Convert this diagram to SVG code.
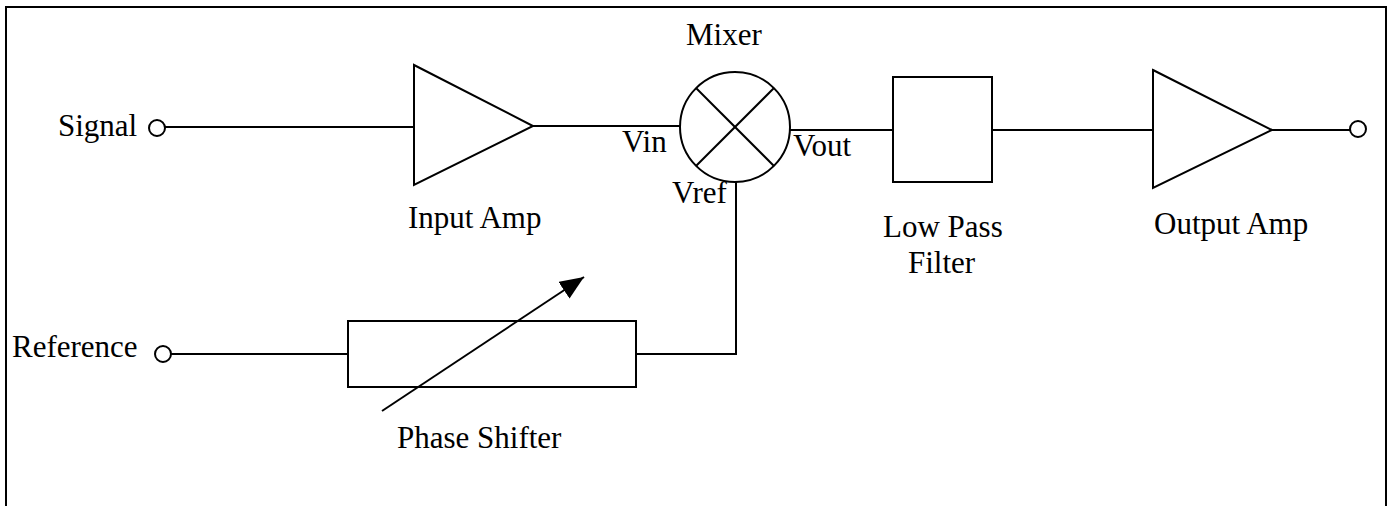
<svg xmlns="http://www.w3.org/2000/svg" width="1392" height="506" viewBox="0 0 1392 506">
<style>
.s{fill:none;stroke:#000;stroke-width:2}
.w{fill:#fff;stroke:#000;stroke-width:2}
text{font-family:'Liberation Serif','Times New Roman','DejaVu Serif',serif;font-size:31px;fill:#000}
</style>
<defs>
<marker id="big" viewBox="0 0 24 20" refX="24" refY="10" markerWidth="24" markerHeight="20" orient="auto" markerUnits="userSpaceOnUse">
<path d="M0,0 L24,10 L0,20 z" fill="#000"/>
</marker>
</defs>
<rect width="1392" height="506" fill="#fff"/>
<path class="s" d="M6,520 V7 H1386 V520"/>
<g id="connectors">
<line class="s" x1="165" y1="127" x2="414" y2="127"/>
<line class="s" x1="533" y1="126" x2="680" y2="126"/>
<line class="s" x1="789" y1="130" x2="893" y2="130"/>
<line class="s" x1="992" y1="130" x2="1153" y2="130"/>
<line class="s" x1="1272" y1="130" x2="1350" y2="130"/>
<line class="s" x1="171" y1="354" x2="348" y2="354"/>
<path class="s" d="M636,354 H736 V182"/>
</g>
<g id="signal-in">
<circle class="w" cx="157" cy="128" r="8"/>
<text x="58" y="136" font-family="Liberation Serif, serif">Signal</text>
</g>
<g id="input-amp">
<polygon class="w" points="414,65 533,126 414,185"/>
<text x="408" y="228" font-family="Liberation Serif, serif">Input Amp</text>
</g>
<g id="mixer">
<circle class="w" cx="735" cy="127" r="55"/>
<line class="s" x1="696" y1="88" x2="774" y2="166"/>
<line class="s" x1="774" y1="88" x2="696" y2="166"/>
<text x="686" y="45" font-family="Liberation Serif, serif">Mixer</text>
<text x="622" y="152" font-family="Liberation Serif, serif">Vin</text>
<text x="793" y="156" font-family="Liberation Serif, serif">Vout</text>
<text x="672" y="203" font-family="Liberation Serif, serif">Vref</text>
</g>
<g id="low-pass-filter">
<rect class="w" x="893" y="77" width="99" height="105"/>
<text x="883" y="237" font-family="Liberation Serif, serif">Low Pass</text>
<text x="908" y="273" font-family="Liberation Serif, serif">Filter</text>
</g>
<g id="output-amp">
<polygon class="w" points="1153,70 1272,130 1153,188"/>
<text x="1154" y="234" font-family="Liberation Serif, serif">Output Amp</text>
</g>
<g id="signal-out">
<circle class="w" cx="1358" cy="129" r="8"/>
</g>
<g id="reference-in">
<circle class="w" cx="163" cy="354" r="8"/>
<text x="12" y="357" font-family="Liberation Serif, serif">Reference</text>
</g>
<g id="phase-shifter">
<rect class="w" x="348" y="321" width="288" height="66"/>
<line class="s" x1="382" y1="411" x2="584" y2="277" marker-end="url(#big)"/>
<text x="397" y="448" font-family="Liberation Serif, serif">Phase Shifter</text>
</g>
</svg>
